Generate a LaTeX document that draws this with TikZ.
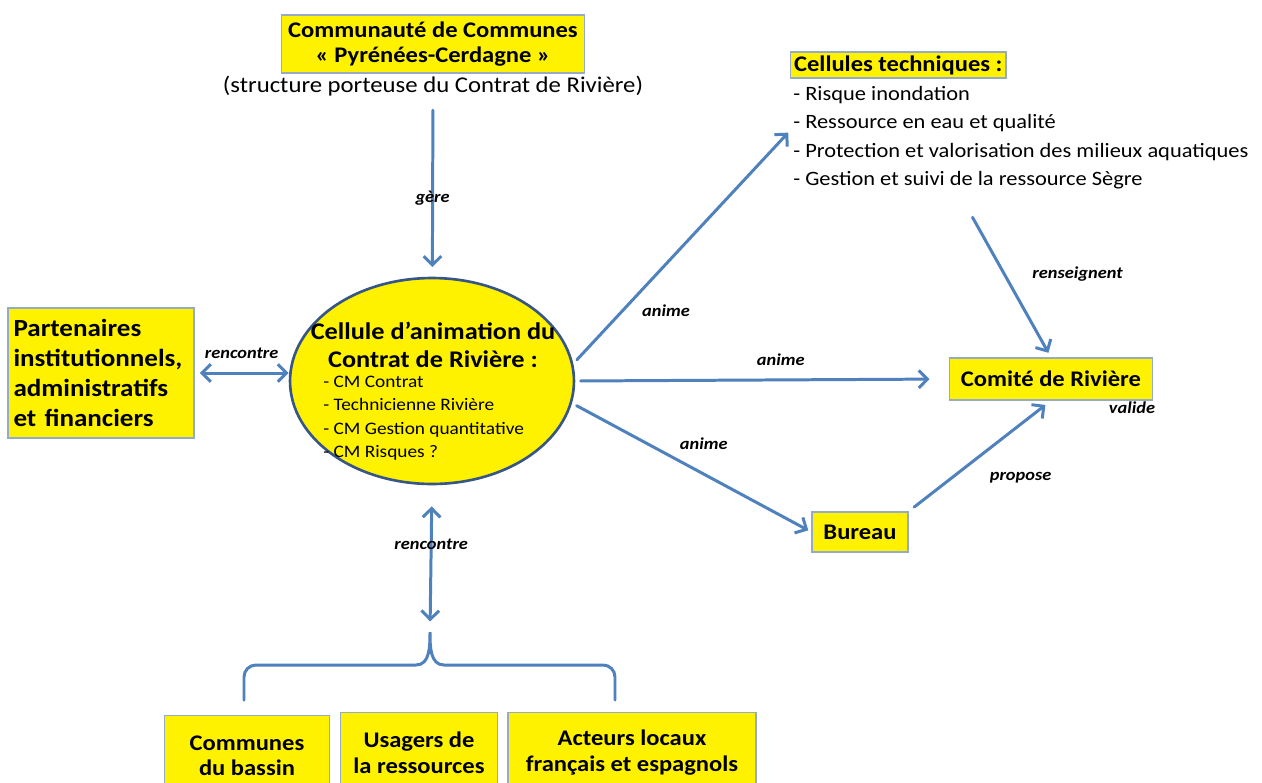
\documentclass[tikz,border=0pt]{standalone}
\usepackage{fontspec}
\setmainfont{Carlito}[FakeStretch=1.1]
\usepackage{tikz}
\usetikzlibrary{positioning}
\usetikzlibrary{shapes, backgrounds}
\usetikzlibrary{arrows.meta}
\usetikzlibrary{calc}
\definecolor{officeblue}{RGB}{79,129,189}
\definecolor{boxborder}{RGB}{150,170,200}
\definecolor{ringblue}{RGB}{55,85,135}
\tikzstyle{line} = [draw=officeblue, line width=1.7pt, line cap=round, -{Straight Barb[length=5pt,width=10pt]}]
\tikzstyle{dline} = [line, {Straight Barb[length=5pt,width=10pt]}-{Straight Barb[length=5pt,width=10pt]}]

\begin{document}
\begin{tikzpicture}[x=0.02cm, y=-0.02cm,
				internal/.style={draw=boxborder, fill=yellow, line width=0.7pt, inner sep=3pt, align=center, font=\bfseries\fontsize{12.7}{14.5}\selectfont},
				lab/.style={font=\bfseries\itshape\fontsize{9.5}{11}\selectfont}]
				\useasboundingbox[fill=white] (0,0) rectangle (1262,782);
				
				\node[internal, minimum width=6.06cm, minimum height=1.16cm](node1) at (433,44) {Communauté de Communes\\«~Pyrénées-Cerdagne~»};
				\node[inner sep=1pt, below=0pt of node1, font=\fontsize{12.8}{14.5}\selectfont](node2) {(structure porteuse du Contrat de Rivière)};
				
				\node[ellipse, draw=ringblue, line width=1.5pt, fill=yellow, minimum width=5.68cm, minimum height=4.12cm](node3) at (432,381) {};
				\node[align=center, font=\bfseries\fontsize{13.6}{16.3}\selectfont](node31) at (433,345) {Cellule d’animation du\\Contrat de Rivière :};
				\node[anchor=north west, align=left, inner sep=0pt, font=\fontsize{10}{13.2}\selectfont](node32) at (323,376) {- CM Contrat\\- Technicienne Rivière\\- CM Gestion quantitative\\- CM Risques ?};
				
				\node[internal, align=left, minimum width=3.72cm, minimum height=2.6cm, text width=3.5cm, font=\bfseries\fontsize{14}{17}\selectfont](node4) at (101,373) {Partenaires institutionnels, administratifs et financiers};
				
				\node[internal, minimum width=3.3cm, minimum height=1.6cm, anchor=north](node5) at (247,715) {Communes\\du bassin};
				\node[internal, minimum width=3.14cm, minimum height=1.6cm, anchor=north](node51) at (419,712) {Usagers de\\la ressources};
				\node[internal, minimum width=4.96cm, minimum height=1.6cm, anchor=north](node52) at (632,712) {Acteurs locaux\\français et espagnols};
				\coordinate (tip) at (430,632);
				
				\node[internal, inner sep=2pt, anchor=west](node6) at (790,65) {Cellules techniques :};
				\node[anchor=north west, align=left, inner sep=0pt, font=\fontsize{11.6}{16.2}\selectfont](node7) at (793,86) {- Risque inondation\\- Ressource en eau et qualité\\- Protection et valorisation des milieux aquatiques\\- Gestion et suivi de la ressource Sègre};
				
				\node[internal, minimum width=4.06cm, minimum height=0.84cm](node8) at (1051,379) {Comité de Rivière};
				\node[internal, minimum width=1.92cm, minimum height=0.8cm](node9) at (860,532) {Bureau};
				\node[lab](node10) at (1132,408) {valide};
				
				% arrows
				\draw [line, shorten <=7pt, shorten >=5.5pt] (node2) -- node[lab, pos=0.56] {gère} (node3);
				\draw [dline, shorten <=3pt] (node4.east) -- node[lab, above=4pt] {rencontre} (node4.east -| node3.west);
				\draw [dline, shorten <=12pt, shorten >=6pt] (node3.south) -- node[lab, pos=0.4] {rencontre} (tip);
				\draw [line, shorten <=3pt, shorten >=4pt] (node3.7) -- node[lab, pos=0.28, anchor=north west] {anime} ($(node7.north west)!0.4!(node7.south west)$);
				\draw [line, shorten <=3pt, shorten >=11pt] (node3.east) -- node[lab, pos=0.55, above=4pt] {anime} (node8.west);
				\draw [line, shorten <=3pt, shorten >=2pt] (node3.-9) -- node[lab, pos=0.42, above right] {anime} (node9.west);
				\draw [line, shorten <=18pt, shorten >=3pt] ($(node7.south west)!0.36!(node7.south east)$) -- node[lab, pos=0.5, right=12pt] {renseignent} (node8.north);
				\draw [line, shorten <=4pt, shorten >=4pt] (node9.north east) -- node[lab, pos=0.42, anchor=north west, xshift=8pt] {propose} (node8.south);
				
				% accolade
				\draw [officeblue, line width=1.7pt, line cap=round] (244,700) -- (244,677) to[out=90, in=180] (256,665) -- (416,665) to[out=0, in=-90] (tip) to[out=-90, in=180] (444,665) -- (603,665) to[out=0, in=90] (615,677) -- (615,700);
			\end{tikzpicture}
\end{document}
